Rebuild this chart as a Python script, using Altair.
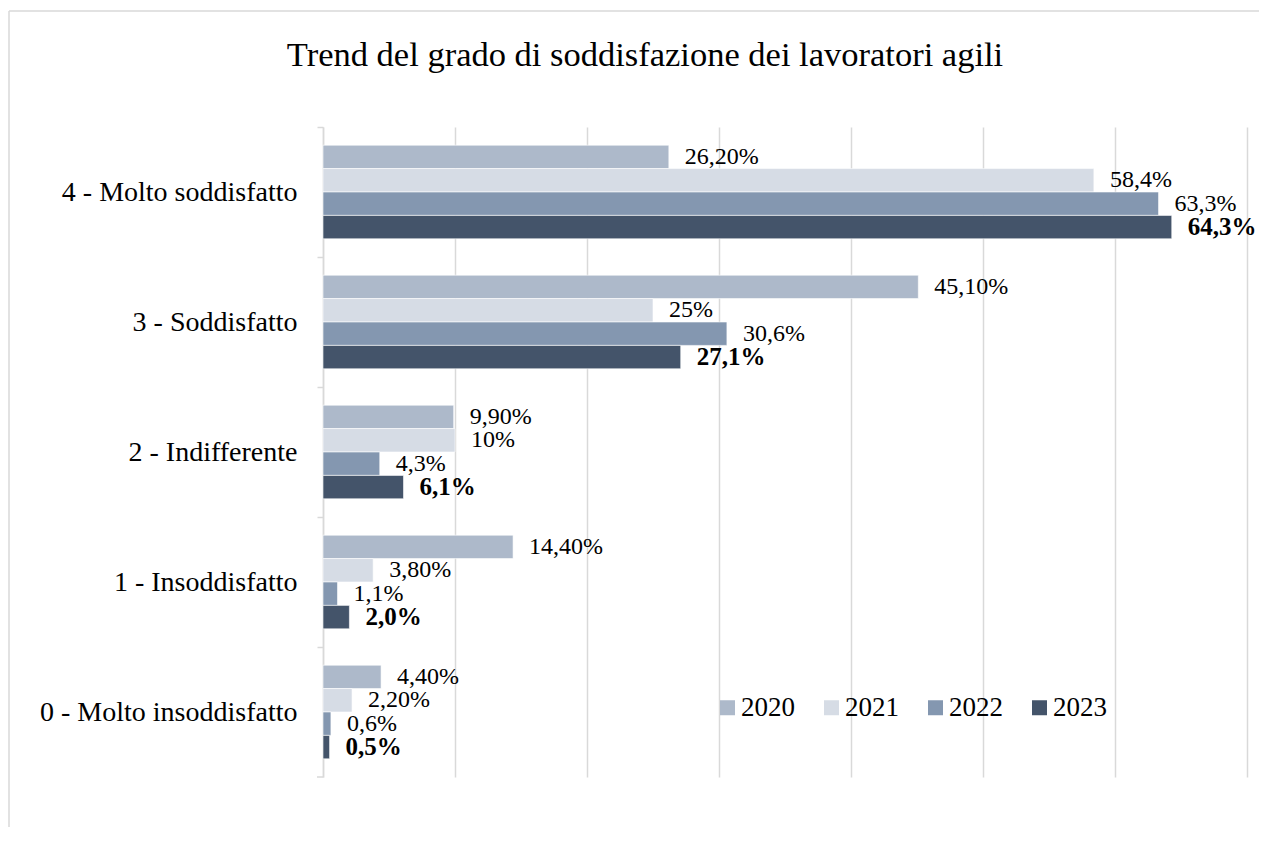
import altair as alt
import pandas as pd

categories = ["4 - Molto soddisfatto", "3 - Soddisfatto", "2 - Indifferente",
              "1 - Insoddisfatto", "0 - Molto insoddisfatto"]
years = ["2020", "2021", "2022", "2023"]
values_2020 = [26.2, 45.1, 9.9, 14.4, 4.4]
values_2021 = [58.4, 25.0, 10.0, 3.8, 2.2]
values_2022 = [63.3, 30.6, 4.3, 1.1, 0.6]
values_2023 = [64.3, 27.1, 6.1, 2.0, 0.5]
labels_2020 = ["26,20%", "45,10%", "9,90%", "14,40%", "4,40%"]
labels_2021 = ["58,4%", "25%", "10%", "3,80%", "2,20%"]
labels_2022 = ["63,3%", "30,6%", "4,3%", "1,1%", "0,6%"]
labels_2023 = ["64,3%", "27,1%", "6,1%", "2,0%", "0,5%"]
colors = ["#ADB9CA", "#D6DCE5", "#8497B0", "#44546A"]

rows = []
for yr, vals, labs in zip(years,
                          [values_2020, values_2021, values_2022, values_2023],
                          [labels_2020, labels_2021, labels_2022, labels_2023]):
    for c, v, l in zip(categories, vals, labs):
        rows.append({"categoria": c, "anno": yr, "valore": v, "etichetta": l})
df = pd.DataFrame(rows)

FONT = "Liberation Serif"

y_enc = alt.Y("categoria:N", sort=categories, title=None,
              scale=alt.Scale(paddingInner=0.28, paddingOuter=0.14),
              axis=alt.Axis(labelFont=FONT, labelFontSize=28, labelColor="#000000",
                            labelLimit=500,
                            domainColor="#d9d9d9", domainWidth=1.5,
                            tickColor="#d9d9d9", tickWidth=1.5, tickSize=6,
                            tickOffset=-65, labelOffset=65, labelPadding=20,
                            grid=False))
yoff = alt.YOffset("anno:N", sort=years, scale=alt.Scale(paddingInner=0, paddingOuter=0))
x_enc = alt.X("valore:Q", title=None,
              scale=alt.Scale(domain=[0, 70], nice=False),
              axis=alt.Axis(values=[0, 10, 20, 30, 40, 50, 60, 70], labels=False,
                            ticks=False, domain=False, grid=True,
                            gridColor="#d9d9d9", gridWidth=1.5))

base = alt.Chart(df)

bars = base.mark_bar(stroke="white", strokeWidth=0.6).encode(
    y=y_enc, yOffset=yoff, x=x_enc,
    color=alt.Color("anno:N", sort=years,
                    scale=alt.Scale(domain=years, range=colors),
                    legend=alt.Legend(title=None, orient="none", direction="horizontal",
                                      columns=4, legendX=391, legendY=567,
                                      symbolType="square", symbolSize=225,
                                      symbolStrokeWidth=0, labelFont=FONT,
                                      labelFontSize=27, labelColor="#000000",
                                      labelOffset=0, columnPadding=23, padding=0)),
)

text_reg = base.transform_filter(alt.datum.anno != "2023").mark_text(
    align="left", baseline="middle", dx=16, font=FONT, fontSize=24, color="#000000"
).encode(y=alt.Y("categoria:N", sort=categories),
         yOffset=alt.YOffset("anno:N", sort=years),
         x=alt.X("valore:Q"), text="etichetta:N")

text_bold = base.transform_filter(alt.datum.anno == "2023").mark_text(
    align="left", baseline="middle", dx=16, font=FONT, fontSize=25, fontWeight="bold",
    color="#000000"
).encode(y=alt.Y("categoria:N", sort=categories),
         yOffset=alt.YOffset("anno:N", sort=years),
         x=alt.X("valore:Q"), text="etichetta:N")

one = pd.DataFrame({"a": [0]})
border_top = alt.Chart(one).mark_rule(
    color="#d9d9d9", strokeWidth=1.5, clip=False
).encode(x=alt.value(-314), x2=alt.value(950), y=alt.value(-116))
border_left = alt.Chart(one).mark_rule(
    color="#d9d9d9", strokeWidth=1.5, clip=False
).encode(x=alt.value(-314), y=alt.value(-116), y2=alt.value(720))
bottom_tick = alt.Chart(one).mark_rule(
    color="#d9d9d9", strokeWidth=1.5, clip=False
).encode(x=alt.value(-6), x2=alt.value(0), y=alt.value(650))

chart = alt.layer(border_top, border_left, bottom_tick, bars, text_reg, text_bold).properties(
    width=924, height=650,
    title=alt.Title("Trend del grado di soddisfazione dei lavoratori agili",
                    font=FONT, fontSize=34.5, fontWeight="normal", color="#000000",
                    anchor="middle", frame="group", dx=-140, offset=-90,
                    baseline="alphabetic"),
    autosize=alt.AutoSizeParams(type="none"),
    padding={"left": 315, "top": 119, "right": 12, "bottom": 50},
).configure(background="white", font=FONT).configure_view(stroke="transparent", strokeWidth=0)

chart.save("out.html", embed_options={"renderer": "svg", "actions": False})
